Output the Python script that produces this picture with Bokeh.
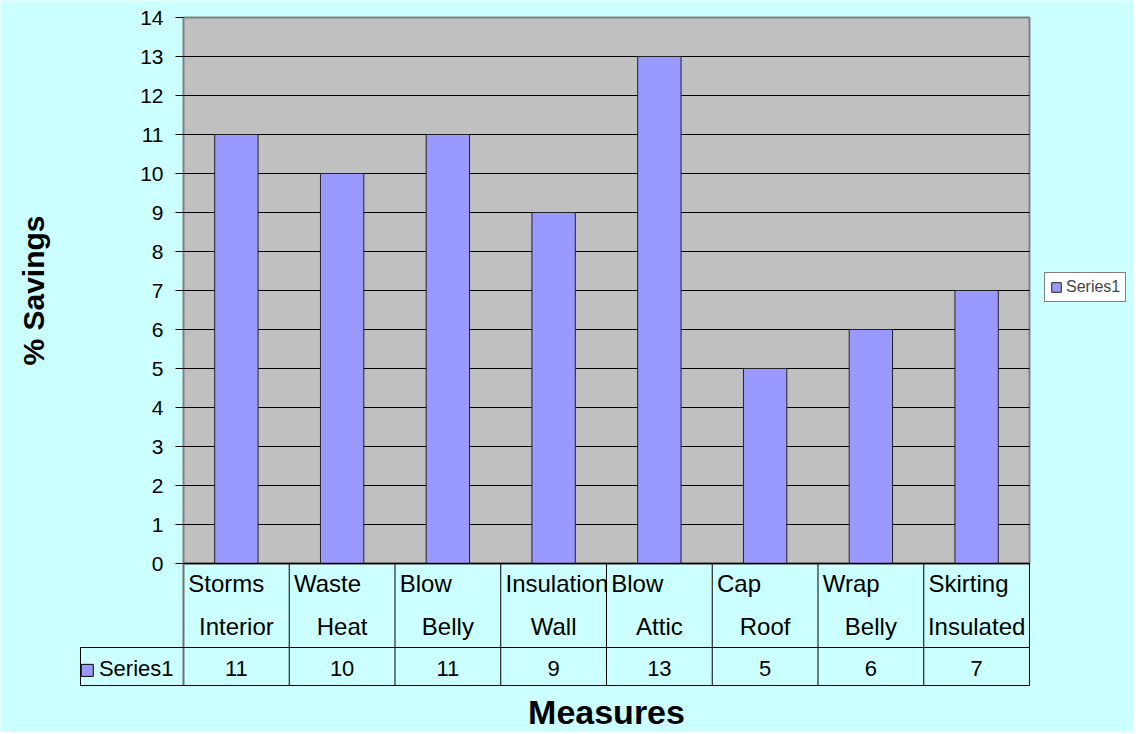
from bokeh.plotting import figure
from bokeh.models import Range1d, LinearAxis, FixedTicker
from bokeh.core.properties import value
from bokeh.embed import file_html
from bokeh.resources import INLINE

# ---- data ----
label_line1 = ["Storms", "Waste", "Blow", "Insulation", "Blow", "Cap", "Wrap", "Skirting"]
label_line2 = ["Interior", "Heat", "Belly", "Wall", "Attic", "Roof", "Belly", "Insulated"]
series_name = "Series1"
savings = [11, 10, 11, 9, 13, 5, 6, 7]
y_ticks = list(range(0, 15))
y_title = "% Savings"
x_title = "Measures"

FONT = "Liberation Sans"
n = len(savings)
xs = [i + 0.5 for i in range(n)]

# layout constants (data units: 1 category = 105.75px, 1 y unit = 39px)
ROW1_BOTTOM = -2.154
TABLE_BOTTOM = -3.128
TABLE_LEFT = -0.974

W, H = 1133, 732
p = figure(width=W, height=H,
           x_range=Range1d(-1.7305, 8.9835), y_range=Range1d(-4.3333, 14.4359),
           x_axis_type=None, y_axis_type=None,
           output_backend="svg", toolbar_location=None, title=None)
p.min_border_left = 0
p.min_border_right = 0
p.min_border_top = 0
p.min_border_bottom = 0
p.background_fill_color = "#CCFFFF"
p.border_fill_color = "#CCFFFF"
p.outline_line_color = None

# plot area
p.quad(left=[0], right=[n], bottom=[y_ticks[0]], top=[y_ticks[-1]],
       fill_color="#C0C0C0", line_color="#808080", line_width=2)

# horizontal gridlines
g = y_ticks[1:-1]
p.segment(x0=[0] * len(g), x1=[n] * len(g), y0=g, y1=g, line_color="black", line_width=1)

# bars
p.vbar(x=xs, top=savings, width=0.41, fill_color="#9999FF", line_color="#222222",
       line_width=1, legend_label=series_name)

# category axis line
p.segment(x0=[0], x1=[n], y0=[0], y1=[0], line_color="black", line_width=1.5)

# data table lines
vx = list(range(1, n + 1))
p.segment(x0=vx, x1=vx, y0=[0] * n, y1=[TABLE_BOTTOM] * n, line_color="black", line_width=1)
p.segment(x0=[0], x1=[0], y0=[0], y1=[TABLE_BOTTOM], line_color="#707070", line_width=2)
p.segment(x0=[TABLE_LEFT, TABLE_LEFT], x1=[n, n], y0=[ROW1_BOTTOM, TABLE_BOTTOM],
          y1=[ROW1_BOTTOM, TABLE_BOTTOM], line_color="black", line_width=1)
p.segment(x0=[TABLE_LEFT], x1=[TABLE_LEFT], y0=[ROW1_BOTTOM], y1=[TABLE_BOTTOM],
          line_color="black", line_width=1)

# category labels (two lines)
p.text(x=[i + 0.045 for i in range(n)], y=[-0.514] * n, text=label_line1,
       text_font=value(FONT), text_font_size="24px", text_align="left",
       text_baseline="alphabetic", text_color="black")
p.text(x=xs, y=[-1.616] * n, text=label_line2,
       text_font=value(FONT), text_font_size="24px", text_align="center",
       text_baseline="alphabetic", text_color="black")

# values row
p.text(x=xs, y=[-2.70] * n, text=[str(v) for v in savings],
       text_font=value(FONT), text_font_size="22px", text_align="center",
       text_baseline="alphabetic", text_color="black")
p.text(x=[-0.0946], y=[-2.70], text=[series_name],
       text_font=value(FONT), text_font_size="22px", text_align="right",
       text_baseline="alphabetic", text_color="black")
p.scatter(x=[-0.91], y=[-2.74], marker="square", size=12,
          fill_color="#9999FF", line_color="black", line_width=1)

# x title
p.text(x=[n / 2], y=[-3.80], text=[x_title],
       text_font=value(FONT), text_font_size="34px", text_font_style="bold",
       text_align="center", text_baseline="alphabetic", text_color="black")

# y axis
yax = LinearAxis(fixed_location=0, ticker=FixedTicker(ticks=y_ticks), axis_label=y_title,
                 bounds=(y_ticks[0], y_ticks[-1]))
yax.axis_line_color = None
yax.major_tick_out = 8
yax.major_tick_in = 0
yax.minor_tick_out = 0
yax.minor_tick_in = 0
yax.major_tick_line_color = "black"
yax.major_label_text_font = FONT
yax.major_label_text_font_size = "21px"
yax.major_label_text_color = "black"
yax.major_label_standoff = 12
yax.axis_label_text_font = FONT
yax.axis_label_text_font_style = "bold"
yax.axis_label_text_font_size = "30px"
yax.axis_label_text_color = "black"
yax.axis_label_standoff = 87
p.add_layout(yax, "left")

# legend
lg = p.legend[0]
lg.location = (1044, 430)
lg.border_line_color = "black"
lg.border_line_width = 1
lg.background_fill_color = "white"
lg.background_fill_alpha = 1
lg.label_text_font = FONT
lg.label_text_font_size = "16px"
lg.glyph_width = 12
lg.glyph_height = 12
lg.label_height = 14
lg.label_standoff = 4
lg.padding = 5
lg.spacing = 0
lg.margin = 0

open("out.html", "w").write(file_html(p, INLINE))
